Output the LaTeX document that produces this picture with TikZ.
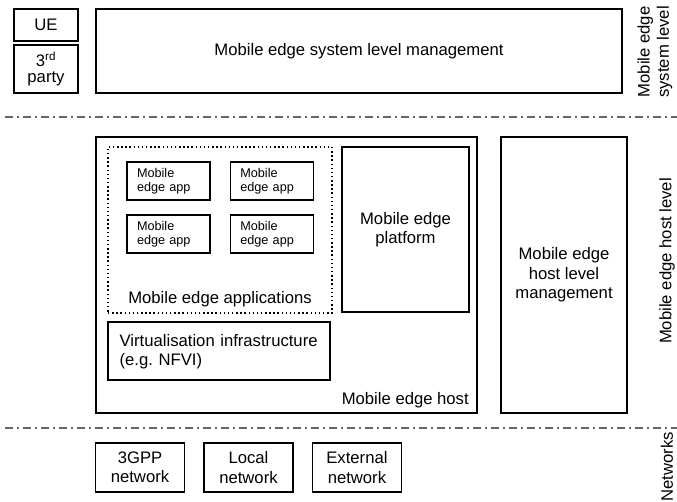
\documentclass[tikz,border=0pt]{standalone}
\usepackage{fontspec}
\setmainfont{Liberation Sans}
\usetikzlibrary{positioning}
\frenchspacing

\begin{document}
\begin{tikzpicture}[x=0.75pt,y=-0.75pt,node distance=14.25pt,
   box/.style={draw,line width=1.1pt,align=center,inner sep=0pt,font=\fontsize{12.5}{14.5}\selectfont},
   app/.style={draw,line width=1pt,align=left,inner sep=0pt,minimum width=62.25pt,minimum height=28.5pt,text width=47.25pt,font=\fontsize{9.5}{10.5}\selectfont},
   net/.style={box,minimum width=66.75pt,minimum height=36.75pt},
   lbl/.style={align=center,inner sep=0pt,font=\fontsize{12.5}{14.5}\selectfont},
   sep/.style={draw=gray!80!black,line width=1pt,dash pattern=on 6pt off 3pt on 1.5pt off 3pt}]
   \useasboundingbox (0,0) rectangle (677,502);
   % system level
   \node[box,minimum width=48pt,minimum height=24pt] (ue) at (46,25) {UE};
   \node[box,minimum width=48pt,minimum height=36pt] (party) at (46,69) {3\textsuperscript{rd}\\[-3pt]party};
   \node[box,minimum width=394.5pt,minimum height=63pt] (sysmgmt) at (359,51) {Mobile edge system level management};
   \node[lbl,rotate=90] (syslevel) at (655,52) {Mobile edge\\system level};
   \coordinate (s1) at (5,117);
   \coordinate (s2) at (677,117);
   \draw[sep] (s1) -- (s2);
   % host level
   \node[box,minimum width=285.75pt,minimum height=207pt] (host) at (286.5,275) {};
   \node[lbl,anchor=south east] (hostlbl) at (469,408) {Mobile edge host};
   \node[draw,line width=1.1pt,dotted,minimum width=168pt,minimum height=124.5pt] (apps) at (220,230) {};
   \node[lbl,anchor=south] (appslbl) at (220,307) {Mobile edge applications};
   \node[app] (app1) at (168.5,181) {\strut Mobile\\edge app};
   \node[app,right=of app1] (app2) {\strut Mobile\\edge app};
   \node[app] (app3) at (168.5,234) {\strut Mobile\\edge app};
   \node[app,right=of app3] (app4) {\strut Mobile\\edge app};
   \node[box,line width=1.6pt,minimum width=95.25pt,minimum height=123.75pt] (platform) at (405.5,229.5) {Mobile edge\\platform};
   \node[box,align=left,minimum width=166.5pt,minimum height=43.5pt,text width=149pt] (virt) at (219,351) {\strut Virtualisation infrastructure\\(e.g. NFVI)};
   \node[box,minimum width=94.5pt,minimum height=207pt] (hostmgmt) at (564,275) {Mobile edge\\host level\\management};
   \node[lbl,rotate=90] (hostlevel) at (667,261) {Mobile edge host level};
   \coordinate (s3) at (5,428);
   \coordinate (s4) at (677,428);
   \draw[sep] (s3) -- (s4);
   % networks
   \node[net] (gpp) at (140,467.5) {3GPP\\network};
   \node[net,right=13.5pt of gpp] (local) {Local\\network};
   \node[net,right=13.5pt of local] (ext) {External\\network};
   \node[lbl,rotate=90] (netlbl) at (667,467) {Networks};
\end{tikzpicture}
\end{document}
